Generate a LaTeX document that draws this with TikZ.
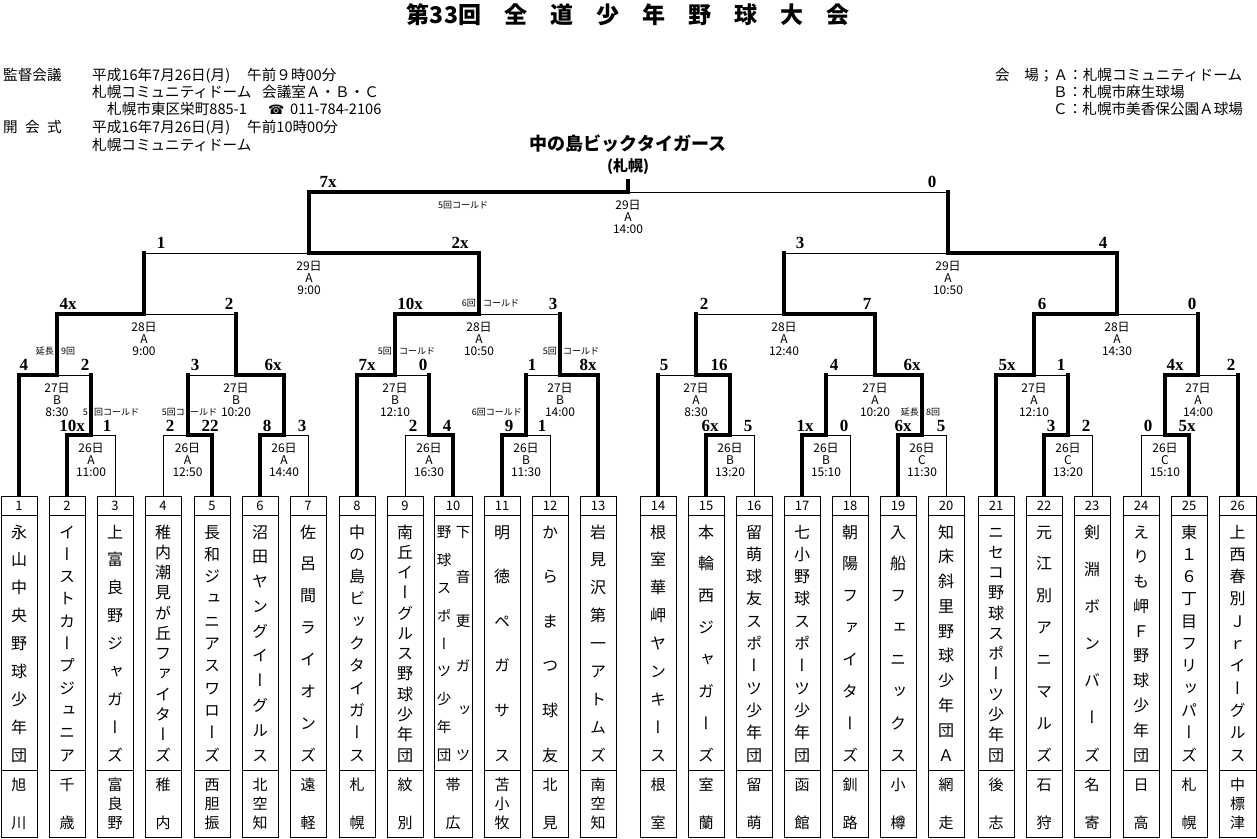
\documentclass[tikz,border=0pt]{standalone}
\usepackage{fontspec}
\setmainfont{Noto Sans CJK JP}
\newfontfamily\jpf{Noto Sans CJK JP}
\newfontfamily\jpvf[RawFeature=+vert]{Noto Sans CJK JP}
\newfontfamily\scorefnt{Liberation Serif}
\newfontfamily\dejf{DejaVu Sans}
\newcommand\fs[1]{\fontsize{#1}{#1}\selectfont}
% bracket bout: name, left child, right child, mid x, y, left vert, right vert, left horiz, right horiz
\newcommand\bout[9]{%
  \coordinate (#1) at (#4,#5);
  \coordinate (#1-l) at (#2 |- #1);
  \coordinate (#1-r) at (#3 |- #1);
  \draw[#6] (#2) -- (#1-l);
  \draw[#7] (#3) -- (#1-r);
  \draw[#8] (#1-l) -- (#1);
  \draw[#9] (#1) -- (#1-r);
}
\newcommand\scores[6]{%
  \node[score] (#1-ls) at (#3,#2) {#4};
  \node[score] (#1-rs) at (#5,#2) {#6};
}
\newcommand\binfo[4]{%
  \node[info,yshift=-13pt] (#1-d) at (#1) {#2};
  \node[info,yshift=-25pt] (#1-v) at (#1) {#3};
  \node[info,yshift=-37pt] (#1-t) at (#1) {#4};
}
% team box: num, x, width, region count, region list
\newcommand\tbox[5]{%
  \node[teambox, minimum width=#3pt] (b#1) at (#2,666.5) {};
  \draw[line width=1pt] ([yshift=-19pt]b#1.north west) -- ([yshift=-19pt]b#1.north east);
  \draw[line width=1pt] ([yshift=67pt]b#1.south west) -- ([yshift=67pt]b#1.south east);
  \node[numf] (b#1-no) at (#2,506) {#1};
  \foreach \cc [count=\ci from 0] in {#5} {\node[regch] (b#1-r\ci) at (#2,{785+\ci*38/(#4-1)}) {\cc};}
}
% name column: name, x, count, list, style
\newcommand\tcol[5]{%
  \foreach \cc [count=\ci from 0] in {#4} {\node[#5] (#1-\ci) at (#2,{532+\ci*223/(#3-1)}) {\cc};}
}
\newcommand\team[7]{%
  \tbox{#1}{#2}{#3}{#6}{#7}%
  \tcol{b#1-n}{#2}{#4}{#5}{namech}%
}
\begin{document}
\begin{tikzpicture}[x=1pt,y=-1pt,
  win/.style={line width=4pt,line cap=rect},
  lose/.style={line width=1pt},
  tw/.style={win,shorten <=2pt},
  tl/.style={lose},
  score/.style={font=\scorefnt\bfseries\fs{17},inner sep=0},
  info/.style={font=\jpf\fs{12},inner sep=0},
  note/.style={font=\jpf\fs{9},inner sep=0},
  head/.style={font=\jpf\fs{14.6},inner sep=0,anchor=west,text height=12.8pt,text depth=1.8pt},
  teambox/.style={draw,rectangle,line width=1pt,minimum height=341pt,inner sep=0,outer sep=0},
  namech/.style={font=\jpvf\fs{16},inner sep=0,text height=14pt,text depth=2pt},
  namesm/.style={font=\jpvf\fs{14.5},inner sep=0,text height=12.8pt,text depth=1.7pt},
  regch/.style={font=\jpf\fs{15},inner sep=0,text height=13.2pt,text depth=1.8pt},
  numf/.style={font=\jpf\fs{13},inner sep=0}]
\useasboundingbox (0,0) rectangle (1257,838);
\fill[white] (0,0) rectangle (1257,838);

% title and header
\node[font=\jpf\bfseries\fs{23},inner sep=0] (title) at (628,15) {第33回　全　道　少　年　野　球　大　会};
\node[head] (h1) at (3,75) {監督会議};
\node[head] (h2) at (92,75) {平成16年7月26日(月)};
\node[head] (h3) at (247,75) {午前９時00分};
\node[head] (h4) at (92,92) {札幌コミュニティドーム};
\node[head] (h5) at (262,92) {会議室Ａ・Ｂ・Ｃ};
\node[head] (h6) at (107,109) {札幌市東区栄町885-1};
\node[head,font=\dejf\fs{13}] (h7) at (268,109) {☎};
\node[head] (h8) at (290,109) {011-784-2106};
\node[head] (h9) at (3,127) {開\hspace{7.3pt}会\hspace{7.3pt}式};
\node[head] (h10) at (92,127) {平成16年7月26日(月)};
\node[head] (h11) at (247,127) {午前10時00分};
\node[head] (h12) at (92,145) {札幌コミュニティドーム};
\node[head] (v1) at (995,75) {会　場；Ａ：札幌コミュニティドーム};
\node[head] (v2) at (1053,92) {Ｂ：札幌市麻生球場};
\node[head] (v3) at (1053,109) {Ｃ：札幌市美香保公園Ａ球場};
\node[font=\jpf\bfseries\fs{18},inner sep=0] (champname) at (628,144) {中の島ビックタイガース};
\node[font=\jpf\bfseries\fs{15},inner sep=0] (champcity) at (628,167) {(札幌)};

% team boxes
\team{1}{19}{36}{9}{永,山,中,央,野,球,少,年,団}{2}{旭,川}
\team{2}{67}{36}{11}{イ,ー,ス,ト,カ,ー,プ,ジ,ュ,ニ,ア}{2}{千,歳}
\team{3}{115}{36}{9}{上,富,良,野,ジ,ャ,ガ,ー,ズ}{3}{富,良,野}
\team{4}{163}{36}{12}{稚,内,潮,見,が,丘,フ,ァ,イ,タ,ー,ズ}{2}{稚,内}
\team{5}{212}{36}{11}{長,和,ジ,ュ,ニ,ア,ス,ワ,ロ,ー,ズ}{3}{西,胆,振}
\team{6}{260}{36}{10}{沼,田,ヤ,ン,グ,イ,ー,グ,ル,ス}{3}{北,空,知}
\team{7}{308}{36}{8}{佐,呂,間,ラ,イ,オ,ン,ズ}{2}{遠,軽}
\team{8}{357}{36}{11}{中,の,島,ビ,ッ,ク,タ,イ,ガ,ー,ス}{2}{札,幌}
\team{9}{405}{36}{12}{南,丘,イ,ー,グ,ル,ス,野,球,少,年,団}{2}{紋,別}
\tbox{10}{453}{38}{2}{帯,広}
\tcol{b10-a}{463}{6}{下,音,更,ガ,ッ,ツ}{namesm}
\tcol{b10-b}{444}{9}{野,球,ス,ポ,ー,ツ,少,年,団}{namesm}
\team{11}{502}{36}{6}{明,徳,ペ,ガ,サ,ス}{3}{苫,小,牧}
\team{12}{550}{36}{6}{か,ら,ま,つ,球,友}{2}{北,見}
\team{13}{598}{36}{9}{岩,見,沢,第,一,ア,ト,ム,ズ}{3}{南,空,知}
\team{14}{658}{36}{9}{根,室,華,岬,ヤ,ン,キ,ー,ス}{2}{根,室}
\team{15}{706}{36}{8}{本,輪,西,ジ,ャ,ガ,ー,ズ}{2}{室,蘭}
\team{16}{754}{36}{11}{留,萌,球,友,ス,ポ,ー,ツ,少,年,団}{2}{留,萌}
\team{17}{802}{36}{11}{七,小,野,球,ス,ポ,ー,ツ,少,年,団}{2}{函,館}
\team{18}{850}{36}{8}{朝,陽,フ,ァ,イ,タ,ー,ズ}{2}{釧,路}
\team{19}{898}{36}{8}{入,船,フ,ェ,ニ,ッ,ク,ス}{2}{小,樽}
\team{20}{946}{36}{10}{知,床,斜,里,野,球,少,年,団,Ａ}{2}{網,走}
\team{21}{996}{36}{12}{ニ,セ,コ,野,球,ス,ポ,ー,ツ,少,年,団}{2}{後,志}
\team{22}{1044}{36}{8}{元,江,別,ア,ニ,マ,ル,ズ}{2}{石,狩}
\team{23}{1092}{36}{7}{剣,淵,ボ,ン,バ,ー,ズ}{2}{名,寄}
\team{24}{1141}{36}{10}{え,り,も,岬,Ｆ,野,球,少,年,団}{2}{日,高}
\team{25}{1189}{36}{11}{東,１,６,丁,目,フ,リ,ッ,パ,ー,ズ}{2}{札,幌}
\team{26}{1237.5}{37}{11}{上,西,春,別,Ｊ,ｒ,イ,ー,グ,ル,ス}{3}{中,標,津}

% round 1 (26th)
\bout{r1a}{b2.north}{b3.north}{91}{435}{tw}{tl}{win}{lose}
\bout{r1b}{b4.north}{b5.north}{187.5}{435}{tl}{tw}{lose}{win}
\bout{r1c}{b6.north}{b7.north}{284}{435}{tw}{tl}{win}{lose}
\bout{r1d}{b9.north}{b10.north}{429}{435}{tl}{tw}{lose}{win}
\bout{r1e}{b11.north}{b12.north}{526}{435}{tw}{tl}{win}{lose}
\bout{r1f}{b15.north}{b16.north}{730}{435}{tw}{tl}{win}{lose}
\bout{r1g}{b17.north}{b18.north}{826}{435}{tw}{tl}{win}{lose}
\bout{r1h}{b19.north}{b20.north}{922}{435}{tw}{tl}{win}{lose}
\bout{r1i}{b22.north}{b23.north}{1068}{435}{tw}{tl}{win}{lose}
\bout{r1j}{b24.north}{b25.north}{1165}{435}{tl}{tw}{lose}{win}
% round 2 (27th)
\bout{r2a}{b1.north}{r1a}{57}{375}{tw}{win}{win}{lose}
\bout{r2b}{r1b}{r1c}{236}{375}{win}{win}{lose}{win}
\bout{r2c}{b8.north}{r1d}{395}{375}{tw}{win}{win}{lose}
\bout{r2d}{r1e}{b13.north}{560}{375}{win}{tw}{lose}{win}
\bout{r2e}{b14.north}{r1f}{696}{375}{tw}{win}{lose}{win}
\bout{r2f}{r1g}{r1h}{875}{375}{win}{win}{lose}{win}
\bout{r2g}{b21.north}{r1i}{1034}{375}{tw}{win}{win}{lose}
\bout{r2h}{r1j}{b26.north}{1198}{375}{win}{tw}{win}{lose}
% round 3 (28th)
\bout{r3a}{r2a}{r2b}{144}{314}{win}{win}{win}{lose}
\bout{r3b}{r2c}{r2d}{479}{314}{win}{win}{win}{lose}
\bout{r3c}{r2e}{r2f}{784}{314}{win}{win}{lose}{win}
\bout{r3d}{r2g}{r2h}{1117}{314}{win}{win}{win}{lose}
% semifinals
\bout{r4a}{r3a}{r3b}{309}{253}{win}{win}{lose}{win}
\bout{r4b}{r3c}{r3d}{948}{253}{win}{win}{lose}{win}
% final
\bout{fin}{r4a}{r4b}{628}{192}{win}{win}{win}{lose}
\coordinate (champ) at (628,181);
\draw[win] (fin) -- (champ);

% scores
\scores{r1a}{426}{72}{10x}{107}{1}
\scores{r1b}{426}{170}{2}{210}{22}
\scores{r1c}{426}{267}{8}{302}{3}
\scores{r1d}{426}{413}{2}{447}{4}
\scores{r1e}{426}{509}{9}{542}{1}
\scores{r1f}{426}{710}{6x}{748}{5}
\scores{r1g}{426}{805}{1x}{844}{0}
\scores{r1h}{426}{903}{6x}{941}{5}
\scores{r1i}{426}{1051}{3}{1086}{2}
\scores{r1j}{426}{1148}{0}{1187}{5x}
\scores{r2a}{365}{24}{4}{85}{2}
\scores{r2b}{365}{195}{3}{273}{6x}
\scores{r2c}{365}{367}{7x}{423}{0}
\scores{r2d}{365}{532}{1}{588}{8x}
\scores{r2e}{365}{664}{5}{719}{16}
\scores{r2f}{365}{834}{4}{912}{6x}
\scores{r2g}{365}{1007}{5x}{1061}{1}
\scores{r2h}{365}{1175}{4x}{1231}{2}
\scores{r3a}{304}{68}{4x}{229}{2}
\scores{r3b}{304}{410}{10x}{553}{3}
\scores{r3c}{304}{704}{2}{867}{7}
\scores{r3d}{304}{1042}{6}{1192}{0}
\scores{r4a}{243}{161}{1}{460}{2x}
\scores{r4b}{243}{800}{3}{1103}{4}
\scores{fin}{182}{328}{7x}{932}{0}

% game info
\binfo{r1a}{26日}{A}{11:00}
\binfo{r1b}{26日}{A}{12:50}
\binfo{r1c}{26日}{A}{14:40}
\binfo{r1d}{26日}{A}{16:30}
\binfo{r1e}{26日}{B}{11:30}
\binfo{r1f}{26日}{B}{13:20}
\binfo{r1g}{26日}{B}{15:10}
\binfo{r1h}{26日}{C}{11:30}
\binfo{r1i}{26日}{C}{13:20}
\binfo{r1j}{26日}{C}{15:10}
\binfo{r2a}{27日}{B}{8:30}
\binfo{r2b}{27日}{B}{10:20}
\binfo{r2c}{27日}{B}{12:10}
\binfo{r2d}{27日}{B}{14:00}
\binfo{r2e}{27日}{A}{8:30}
\binfo{r2f}{27日}{A}{10:20}
\binfo{r2g}{27日}{A}{12:10}
\binfo{r2h}{27日}{A}{14:00}
\binfo{r3a}{28日}{A}{9:00}
\binfo{r3b}{28日}{A}{10:50}
\binfo{r3c}{28日}{A}{12:40}
\binfo{r3d}{28日}{A}{14:30}
\binfo{r4a}{29日}{A}{9:00}
\binfo{r4b}{29日}{A}{10:50}
\binfo{fin}{29日}{A}{14:00}

% annotations
\node[note] (nf) at (463,205) {5回コールド};
\node[note,anchor=east] (n3bl) at (476,303) {6回};
\node[note,anchor=west] (n3br) at (483,303) {コールド};
\node[note,anchor=east] (n2al) at (54,351) {延長};
\node[note,anchor=west] (n2ar) at (61,351) {9回};
\node[note,anchor=east] (n1al) at (88,412) {5};
\node[note,anchor=west] (n1ar) at (94,412) {回コールド};
\node[note,anchor=east] (n1bl) at (185,412) {5回コ};
\node[note,anchor=west] (n1br) at (190,412) {ールド};
\node[note,anchor=east] (n2cl) at (392,351) {5回};
\node[note,anchor=west] (n2cr) at (399,351) {コールド};
\node[note,anchor=east] (n2dl) at (557,351) {5回};
\node[note,anchor=west] (n2dr) at (563,351) {コールド};
\node[note,anchor=east] (n1e) at (522,412) {6回コールド};
\node[note,anchor=east] (n1hl) at (919,412) {延長};
\node[note,anchor=west] (n1hr) at (926,412) {8回};
\end{tikzpicture}
\end{document}
